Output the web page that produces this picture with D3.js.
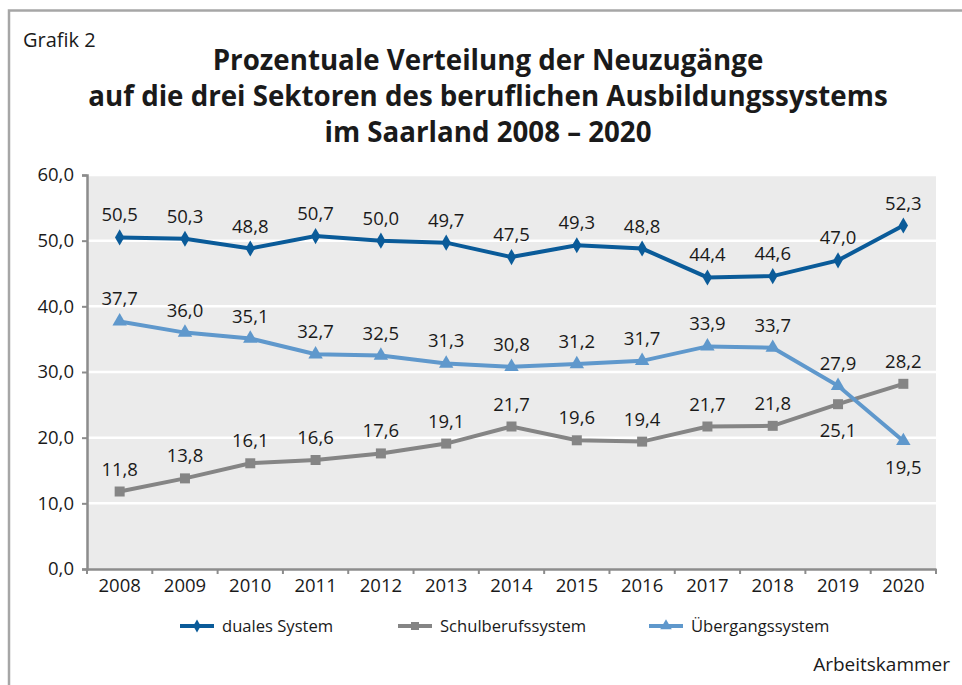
<!DOCTYPE html>
<html>
  <head>
    <meta charset="utf-8">
    <style>
      body { margin: 0; background: #fff; overflow: hidden; }
      text { font-family: "Open Sans", "Noto Sans", sans-serif; fill: #1a1a1a; }
    </style>
    <script src="https://d3js.org/d3.v7.min.js"></script>
  </head>
  <body>
    <svg width="962" height="685"></svg>
    <script>
      const years = ['2008','2009','2010','2011','2012','2013','2014','2015','2016','2017','2018','2019','2020'];
      const duales = [50.5, 50.3, 48.8, 50.7, 50.0, 49.7, 47.5, 49.3, 48.8, 44.4, 44.6, 47.0, 52.3];
      const schulberuf = [11.8, 13.8, 16.1, 16.6, 17.6, 19.1, 21.7, 19.6, 19.4, 21.7, 21.8, 25.1, 28.2];
      const uebergang = [37.7, 36.0, 35.1, 32.7, 32.5, 31.3, 30.8, 31.2, 31.7, 33.9, 33.7, 27.9, 19.5];
      const yTicks = [0, 10, 20, 30, 40, 50, 60];
      // label below point for these indices
      const schulBelow = [11];
      const uebBelow = [12];

      const series = [
        { name: 'duales System', values: duales, color: '#0a5b99', shape: d3.symbolDiamond, size: 75, below: [] },
        { name: 'Schulberufssystem', values: schulberuf, color: '#858585', shape: d3.symbolSquare, size: 100, below: schulBelow },
        { name: 'Übergangssystem', values: uebergang, color: '#5f98cc', shape: d3.symbolTriangle, size: 90, below: uebBelow }
      ];

      const svg = d3.select('svg');
      const fmt = v => v.toFixed(1).replace('.', ',');

      // frame
      svg.append('path')
        .attr('d', 'M9,690 L9,10.5 L970,10.5')
        .attr('fill', 'none').attr('stroke', '#a6a6a6').attr('stroke-width', 2.5);

      svg.append('text').attr('x', 23).attr('y', 47).style('font-size', '20px').text('Grafik 2');

      const titleLines = ['Prozentuale Verteilung der Neuzugänge',
        'auf die drei Sektoren des beruflichen Ausbildungssystems',
        'im Saarland 2008 – 2020'];
      svg.append('g').selectAll('text').data(titleLines).join('text')
        .attr('x', 488).attr('y', (d, i) => 70 + i * 36)
        .attr('text-anchor', 'middle')
        .style('font-size', '27.7px').style('font-weight', 'bold')
        .text(d => d);

      const plotL = 87, plotR = 936, plotT = 175, plotB = 569;
      const x = d3.scaleBand().domain(years).range([plotL, plotR]);
      const y = d3.scaleLinear().domain([0, 60]).range([plotB, plotT]);

      svg.append('rect').attr('x', plotL).attr('y', plotT)
        .attr('width', plotR - plotL).attr('height', plotB - plotT).attr('fill', '#ebebeb');

      svg.append('g').selectAll('line').data(yTicks.slice(1)).join('line')
        .attr('x1', plotL).attr('x2', plotR)
        .attr('y1', d => y(d)).attr('y2', d => y(d))
        .attr('stroke', '#fff').attr('stroke-width', 2.5);

      const yAxis = svg.append('g').attr('transform', `translate(${plotL},0)`)
        .call(d3.axisLeft(y).tickValues(yTicks).tickSize(5).tickPadding(8).tickFormat(fmt));
      const xAxis = svg.append('g').attr('transform', `translate(0,${plotB})`)
        .call(d3.axisBottom(x).tickSize(0).tickPadding(10));
      // category boundary ticks
      svg.append('g').selectAll('line').data(d3.range(years.length + 1)).join('line')
        .attr('x1', i => plotL + i * x.step()).attr('x2', i => plotL + i * x.step())
        .attr('y1', plotB).attr('y2', plotB + 5)
        .attr('stroke', '#8c8c8c').attr('stroke-width', 2);
      [yAxis, xAxis].forEach(a => {
        a.select('.domain').attr('stroke', '#8c8c8c').attr('stroke-width', 2.5);
        a.selectAll('.tick line').attr('stroke', '#8c8c8c').attr('stroke-width', 2);
        a.selectAll('.tick text').style('font-size', '18.5px').attr('fill', '#1a1a1a')
          .style('font-family', '"Open Sans", sans-serif');
      });

      const line = d3.line().x((d, i) => x(years[i]) + x.bandwidth() / 2).y(d => y(d));

      series.forEach(s => {
        const g = svg.append('g');
        g.append('path').datum(s.values).attr('d', line)
          .attr('fill', 'none').attr('stroke', s.color).attr('stroke-width', 4);
        g.selectAll('path.m').data(s.values).join('path').attr('class', 'm')
          .attr('transform', (d, i) => `translate(${x(years[i]) + x.bandwidth() / 2},${y(d)})`)
          .attr('d', d3.symbol().type(s.shape).size(s.size))
          .attr('fill', s.color);
        g.selectAll('text').data(s.values).join('text')
          .attr('x', (d, i) => x(years[i]) + x.bandwidth() / 2)
          .attr('y', (d, i) => s.below.includes(i) ? y(d) + 33 : y(d) - 16)
          .attr('text-anchor', 'middle')
          .style('font-size', '18.5px')
          .text(fmt);
      });

      // legend
      const legendX = [180, 398, 649];
      series.forEach((s, i) => {
        const g = svg.append('g').attr('transform', `translate(${legendX[i]},626)`);
        g.append('line').attr('x1', 0).attr('x2', 34).attr('stroke', s.color).attr('stroke-width', 4);
        g.append('path').attr('transform', 'translate(17,0)')
          .attr('d', d3.symbol().type(s.shape).size(s.size * 0.65)).attr('fill', s.color);
        g.append('text').attr('x', 42).attr('y', 6).style('font-size', '16.6px').text(s.name);
      });

      svg.append('text').attr('x', 950).attr('y', 671).attr('text-anchor', 'end')
        .style('font-size', '19px').text('Arbeitskammer');
    </script>
  </body>
</html>
